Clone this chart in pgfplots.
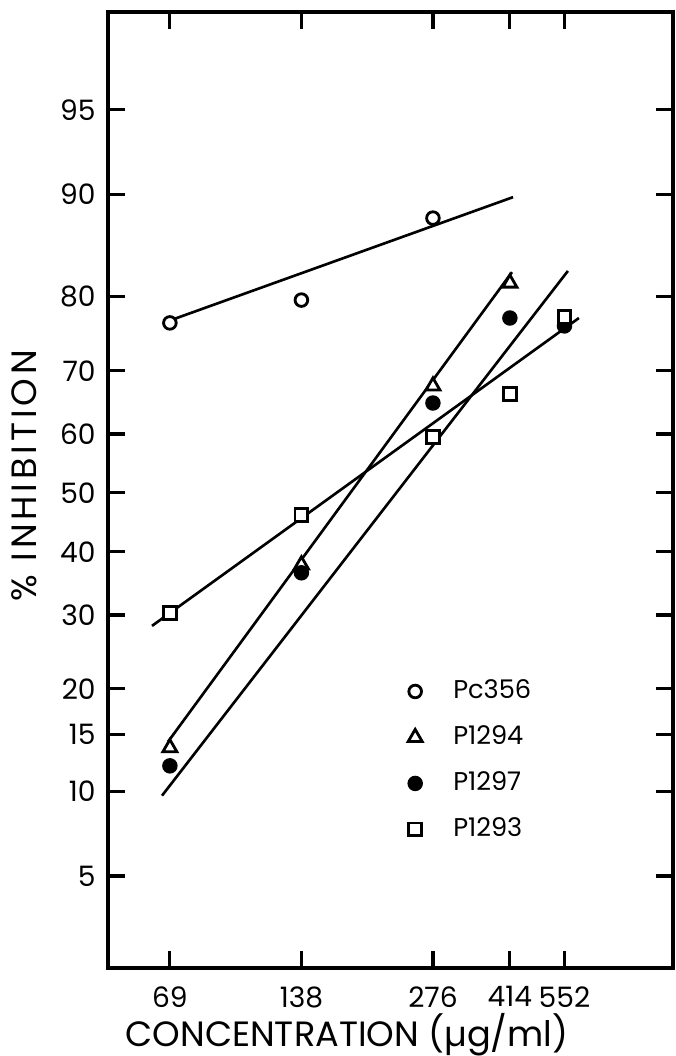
\documentclass[border=0pt]{standalone}
\usepackage{fontspec}
\setmainfont{Poppins}
\usepackage{pgfplots}
\pgfplotsset{compat=1.18}
\begin{document}
\begin{tikzpicture}[x=1mm,y=1mm]
\useasboundingbox (-10.8,-8.8) rectangle (56.8,96.8);
\begin{axis}[
  at={(0,0)}, anchor=south west,
  scale only axis, width=56.5mm, height=95.6mm,
  xmode=log, xmin=49.8, xmax=978,
  ymin=-2.04, ymax=2.065,
  xtick={69,138,276,414,552}, xticklabels={69,138,276,414,552},
  minor xtick={}, minor ytick={},
  ytick={-1.6449,-1.2816,-1.0364,-0.8416,-0.5244,-0.2533,0,0.2533,0.5244,0.8416,1.2816,1.6449},
  yticklabels={5,10,15,20,30,40,50,60,70,80,90,95},
  tick align=inside, major tick length=1.7mm,
  axis line style={line width=0.9pt},
  every tick/.style={black, line width=0.9pt},
  /pgf/number format/assume math mode=true,
  every tick label/.append style={font=\fontsize{8}{9}\selectfont},
  xticklabel style={yshift=-0.6mm},
  xlabel={CONCENTRATION (µg/ml)},
  xlabel style={at={(axis description cs:0.423,-0.07)}, anchor=center, font=\fontsize{10}{12}\selectfont},
  ylabel={\% INHIBITION},
  ylabel style={at={(axis description cs:-0.148,0.515)}, anchor=center,
    font=\fontsize{10}{12}\selectfont\addfontfeature{LetterSpace=11}},
  legend style={at={(axis description cs:0.53,0.31)}, anchor=north west, draw=none, fill=none,
    font=\fontsize{7.3}{8.5}\selectfont, row sep=2.2pt, inner sep=0pt,
    /tikz/every odd column/.append style={column sep=2.4mm}},
  legend cell align=left,
]
% fitted lines (probit units on y)
\addplot[black, line width=0.75pt, forget plot] coordinates {(69.4,0.742) (421,1.270)};
\addplot[black, line width=0.75pt, forget plot] coordinates {(68.3,-1.069) (418.6,0.948)};
\addplot[black, line width=0.75pt, forget plot] coordinates {(66.2,-1.300) (562,0.953)};
\addplot[black, line width=0.75pt, forget plot] coordinates {(62.8,-0.571) (595.7,0.751)};
% data
\addplot[only marks, mark=*, mark size=1.8pt, line width=0.8pt, mark options={fill=white, draw=black}]
  coordinates {(69,0.730) (138,0.828) (276,1.180)};
\addlegendentry{Pc356}
\addplot[only marks, mark=triangle*, mark size=2.3pt, line width=0.8pt, mark options={fill=white, draw=black}]
  coordinates {(69,-1.094) (138,-0.309) (276,0.459) (414,0.901)};
\addlegendentry{P1294}
\addplot[only marks, mark=*, mark size=2pt, black]
  coordinates {(69,-1.172) (138,-0.343) (276,0.386) (414,0.751) (552,0.717)};
\addlegendentry{P1297}
\addplot[only marks, mark=square*, mark size=1.8pt, line width=0.8pt, mark options={fill=white, draw=black}]
  coordinates {(69,-0.515) (138,-0.094) (276,0.240) (414,0.425) (552,0.755)};
\addlegendentry{P1293}
\end{axis}
\end{tikzpicture}
\end{document}
